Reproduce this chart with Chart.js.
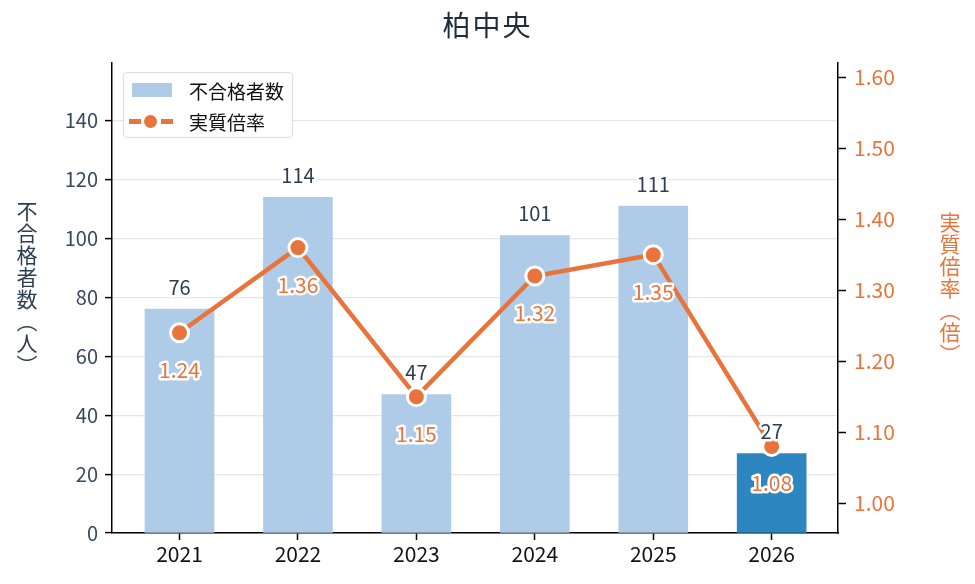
<!DOCTYPE html>
<html>
<head>
<meta charset="utf-8">
<script src="https://cdn.jsdelivr.net/npm/chart.js@4"></script>
<style>
  html, body { margin: 0; padding: 0; background: #fff; }
  body { width: 975px; height: 584px; position: relative; overflow: hidden;
         font-family: "Noto Sans CJK JP", "Noto Sans", sans-serif; }
  #wrap { position: absolute; left: 0; top: 0; width: 975px; height: 584px; }
  .title { position: absolute; top: 4px; left: 0; width: 975px; text-align: center;
           font-size: 28px; letter-spacing: 2px; color: #1f2d3d; }
  .vtitle { position: absolute; writing-mode: vertical-rl; font-size: 21px; line-height: 1; letter-spacing: 1px; }
  .legend { position: absolute; left: 123px; top: 72px; width: 168px; height: 64px;
            border: 1.5px solid #ddd; border-radius: 4px; background: rgba(255,255,255,0.9);
            font-size: 19px; color: #111; }
  .legend .row { position: absolute; left: 4px; height: 24px; display: flex; align-items: center; }
  .legend .sw { width: 46px; height: 24px; position: relative; margin-right: 15px; }
</style>
</head>
<body>
<div id="wrap"><canvas id="c" width="975" height="584"></canvas></div>
<div class="title">柏中央</div>
<div class="vtitle" style="left:16px; top:201px; color:#2c3e50;">不合格者数（人）</div>
<div class="vtitle" style="left:939px; top:212px; color:#e8743b;">実質倍率（倍）</div>
<div class="legend">
  <div class="row" style="top:5px;">
    <div class="sw"><div style="position:absolute;left:4px;top:5px;width:40px;height:14px;background:#aecbe7;"></div></div>
    <span>不合格者数</span>
  </div>
  <div class="row" style="top:36px;">
    <div class="sw">
      <div style="position:absolute;left:1px;top:10px;width:12px;height:5px;background:#e8743b;"></div>
      <div style="position:absolute;left:16px;top:6px;width:13px;height:13px;border-radius:50%;background:#e8743b;"></div>
      <div style="position:absolute;left:33px;top:10px;width:12px;height:5px;background:#e8743b;"></div>
    </div>
    <span>実質倍率</span>
  </div>
</div>
<script>
const years = ['2021', '2022', '2023', '2024', '2025', '2026'];
const failed = [76, 114, 47, 101, 111, 27];
const rate = [1.24, 1.36, 1.15, 1.32, 1.35, 1.08];
const leftTicks = [0, 20, 40, 60, 80, 100, 120, 140];
const rightTicks = [1.0, 1.1, 1.2, 1.3, 1.4, 1.5, 1.6];

const orange = '#e8743b';
const navy = '#2c3e50';
const fontFam = '"Noto Sans CJK JP", "Noto Sans", sans-serif';
Chart.defaults.font.family = fontFam;

// labels drawn on top of the marks
const labelPlugin = {
  id: 'labels',
  afterDatasetsDraw(chart) {
    const ctx = chart.ctx;
    ctx.save();
    ctx.textAlign = 'center';
    ctx.textBaseline = 'middle';
    ctx.lineJoin = 'round';
    chart.getDatasetMeta(0).data.forEach((bar, i) => {
      ctx.font = '20px ' + fontFam;
      ctx.lineWidth = 5;
      ctx.strokeStyle = '#fff';
      ctx.strokeText(String(failed[i]), bar.x, bar.y - 22);
      ctx.fillStyle = navy;
      ctx.fillText(String(failed[i]), bar.x, bar.y - 22);
    });
    chart.getDatasetMeta(1).data.forEach((pt, i) => {
      const t = rate[i].toFixed(2);
      ctx.font = '21px ' + fontFam;
      ctx.lineWidth = 5;
      ctx.strokeStyle = '#fff';
      ctx.strokeText(t, pt.x, pt.y + 37);
      ctx.fillStyle = orange;
      ctx.fillText(t, pt.x, pt.y + 37);
    });
    ctx.restore();
  }
};

new Chart(document.getElementById('c'), {
  data: {
    datasets: [
      {
        type: 'bar',
        label: '不合格者数',
        data: failed.map((v, i) => ({ x: i, y: v })),
        backgroundColor: failed.map((v, i) => i === failed.length - 1 ? '#2e86c1' : '#aecbe7'),
        barThickness: 69,
        yAxisID: 'y',
        order: 2
      },
      {
        type: 'line',
        label: '実質倍率',
        data: rate.map((v, i) => ({ x: i, y: v })),
        borderColor: orange,
        borderWidth: 4.5,
        pointBackgroundColor: orange,
        pointBorderColor: '#fff',
        pointBorderWidth: 3,
        pointRadius: 9,
        yAxisID: 'y2',
        order: 1
      }
    ]
  },
  options: {
    responsive: false,
    animation: false,
    layout: { padding: { top: 63, left: 0, right: 0, bottom: 0 } },
    plugins: { legend: { display: false }, tooltip: { enabled: false } },
    scales: {
      x: {
        type: 'linear',
        offset: false,
        min: -0.57,
        max: 5.56,
        afterBuildTicks: s => { s.ticks = years.map((y, i) => ({ value: i })); },
        afterFit: s => { s.height = 51; },
        ticks: { callback: v => years[v], color: '#111', font: { size: 21 }, padding: 1 },
        grid: { offset: false, drawOnChartArea: false, tickColor: '#000', tickLength: 7, tickWidth: 1.5 },
        border: { color: '#000', width: 1.5 }
      },
      y: {
        position: 'left',
        min: 0,
        max: 159.6,
        afterBuildTicks: s => { s.ticks = leftTicks.map(v => ({ value: v })); },
        afterFit: s => { s.width = 112; },
        ticks: { color: '#34495e', font: { size: 20 }, padding: 7 },
        grid: { color: '#e6e6e6', lineWidth: 1.2, tickColor: '#000', tickLength: 7, tickWidth: 1.5 },
        border: { color: '#000', width: 1.5 }
      },
      y2: {
        position: 'right',
        min: 0.958,
        max: 1.62,
        afterBuildTicks: s => { s.ticks = rightTicks.map(v => ({ value: v })); },
        afterFit: s => { s.width = 137; },
        ticks: { color: orange, font: { size: 21 }, padding: 8, callback: v => v.toFixed(2) },
        grid: { drawOnChartArea: false, tickColor: '#000', tickLength: 8, tickWidth: 1.5 },
        border: { color: '#000', width: 1.5 }
      }
    }
  },
  plugins: [labelPlugin]
});
</script>
</body>
</html>
